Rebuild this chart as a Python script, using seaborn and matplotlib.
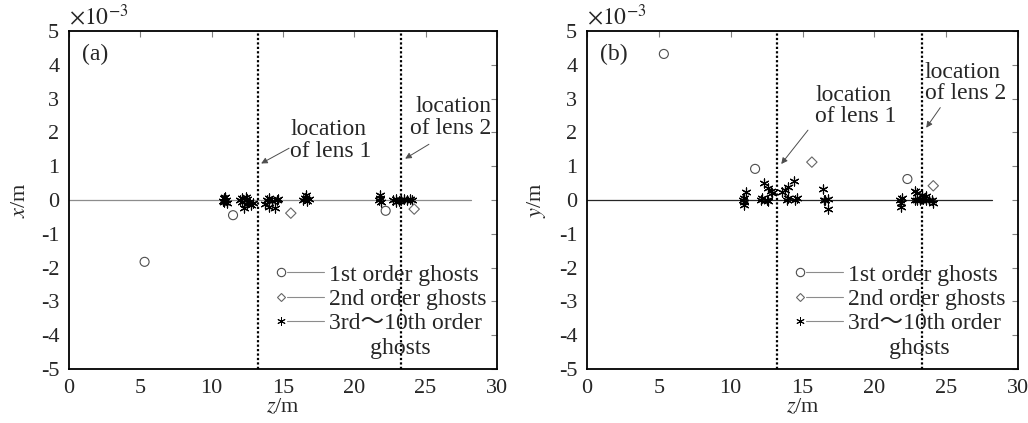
import matplotlib
matplotlib.use('Agg')
import matplotlib.pyplot as plt
import seaborn as sns
from matplotlib.lines import Line2D
from matplotlib.legend_handler import HandlerTuple

# all transverse values in units of 1e-3 m
# panel (a): x/m
z_first_a = [5.3, 11.5, 22.2]
x_first_a = [-1.83, -0.45, -0.32]
z_second_a = [15.55, 24.2]
x_second_a = [-0.39, -0.27]
z_high_a = [10.8, 10.85, 10.9, 10.95, 11.0, 11.05, 12.0, 12.1, 12.15, 12.4, 12.45, 12.5, 12.6,
            12.3, 12.75, 12.9, 13.75, 14.0, 14.45, 13.9, 14.05, 14.2, 14.6, 14.65,
            16.4, 16.55, 16.6, 16.7, 16.8, 21.75, 21.8, 21.85, 21.8,
            22.7, 22.9, 22.95, 23.1, 23.3, 23.5, 23.7, 23.9, 24.05]
x_high_a = [-0.02, 0.05, -0.05, 0.1, 0.0, -0.08, 0.0, 0.05, -0.05, 0.08, -0.12, 0.02, -0.05,
            -0.24, -0.15, -0.1, -0.12, -0.2, -0.24, 0.0, 0.05, -0.03, 0.0, 0.04,
            0.0, 0.05, 0.15, -0.03, 0.02, 0.0, 0.05, -0.05, 0.15,
            0.0, 0.03, -0.05, -0.03, 0.0, 0.02, 0.0, 0.03, 0.0]

# panel (b): y/m
z_first_b = [5.35, 11.7, 22.3]
y_first_b = [4.32, 0.92, 0.62]
z_second_b = [15.65, 24.1]
y_second_b = [1.12, 0.42]
z_high_b = [10.85, 10.9, 10.95, 10.9, 11.1, 12.1, 12.2, 12.5, 12.6, 12.3, 12.6, 12.8, 12.9,
            13.6, 13.8, 14.0, 14.4, 13.9, 14.0, 14.5, 14.6,
            16.4, 16.5, 16.6, 16.8, 16.75, 21.8, 21.9, 21.85, 21.85,
            22.8, 23.0, 23.3, 23.6, 22.8, 23.0, 23.2, 23.4, 23.6, 23.8, 24.0, 24.1]
y_high_b = [0.0, 0.05, -0.05, -0.15, 0.25, 0.0, 0.05, 0.0, -0.03, 0.5, 0.35, 0.27, 0.22,
            0.24, 0.3, 0.39, 0.55, 0.0, 0.05, 0.0, 0.05,
            0.32, 0.0, 0.0, 0.03, -0.27, 0.0, 0.05, -0.1, -0.2,
            0.27, 0.2, 0.15, 0.12, 0.0, 0.0, 0.0, 0.02, 0.0, 0.0, 0.0, -0.1]

lens_z = [13.25, 23.3]
axis_line_z = [0, 28.2]
axis_line_v = [0, 0]

legend_labels = ['1st order ghosts', '2nd order ghosts', '3rd\uff5e10th order', '       ghosts']

sns.set_style('white')
plt.rcParams['font.family'] = ['Liberation Serif', 'Noto Sans CJK SC', 'DejaVu Sans']
plt.rcParams['mathtext.fontset'] = 'stix'
plt.rcParams['axes.unicode_minus'] = False

fig = plt.figure(figsize=(10.28, 4.23), dpi=100)
ax_a = fig.add_axes([0.0671, 0.1277, 0.4163, 0.7991])
ax_b = fig.add_axes([0.571, 0.1277, 0.4193, 0.7991])

panels = [
    (ax_a, z_first_a, x_first_a, z_second_a, x_second_a, z_high_a, x_high_a, '$x$/m', '(a)', '0.55'),
    (ax_b, z_first_b, y_first_b, z_second_b, y_second_b, z_high_b, y_high_b, '$y$/m', '(b)', '0.15'),
]

for ax, zf, vf, zs, vs, zh, vh, ylab, tag, zero_col in panels:
    ax.plot(axis_line_z, axis_line_v, color=zero_col, lw=0.9, zorder=1)
    for lz in lens_z:
        ax.axvline(lz, color='k', ls=(0, (1, 1)), lw=1.6, zorder=2)
    sns.scatterplot(x=zh, y=vh, ax=ax, marker=(6, 2, 0), color='k', s=42, linewidth=0.85, zorder=3)
    sns.scatterplot(x=zf, y=vf, ax=ax, marker='o', color='none', edgecolor='0.3', s=42,
                    linewidth=0.8, zorder=4)
    sns.scatterplot(x=zs, y=vs, ax=ax, marker='D', color='none', edgecolor='0.4', s=28,
                    linewidth=0.8, zorder=4)
    ax.set_xlim(0, 30)
    ax.set_ylim(-5, 5)
    ax.set_xticks(range(0, 31, 5))
    ax.set_yticks(range(-5, 6))
    ax.tick_params(direction='in', length=4, color='0.5', top=True, right=True,
                   labelsize=16, pad=7)
    for sp in ax.spines.values():
        sp.set_linewidth(1.3)
        sp.set_color('k')
    ax.set_xlabel('$z$/m', fontsize=16, labelpad=0)
    ax.set_ylabel(ylab, fontsize=16, labelpad=8)
    ax.text(0.03, 0.93, tag, transform=ax.transAxes, fontsize=17, va='center')
    ax.text(0.0, 1.005, r'$\times10^{-3}$', transform=ax.transAxes, fontsize=17, va='bottom')

    m1 = Line2D([], [], ls='none', marker='o', mfc='none', mec='0.3', ms=6, mew=0.8)
    m2 = Line2D([], [], ls='none', marker='D', mfc='none', mec='0.4', ms=4.5, mew=0.8)
    m3 = Line2D([], [], ls='none', marker=(6, 2, 0), color='k', ms=6, mew=0.7)
    ln = Line2D([], [], color='0.55', lw=0.8)
    blank = Line2D([], [], ls='none')
    leg = ax.legend([(m1, ln, ln, ln), (m2, ln, ln, ln), (m3, ln, ln, ln), blank], legend_labels,
                    handler_map={tuple: HandlerTuple(ndivide=None, pad=0)},
                    loc='upper left', bbox_to_anchor=(0.48, 0.31), frameon=False,
                    handlelength=2.1, handletextpad=0.2, labelspacing=0.12,
                    borderaxespad=0, borderpad=0, fontsize=17)

# lens annotations
ax_a.text(15.5, 1.75, 'location\nof lens 1', fontsize=17, ha='left', va='center', linespacing=1.05)
ax_a.annotate('', xy=(13.3, 1.04), xytext=(15.6, 1.57),
              arrowprops=dict(arrowstyle='-|>', color='0.3', lw=0.7, mutation_scale=9))
ax_a.text(29.6, 2.43, 'location\nof lens 2', fontsize=17, ha='right', va='center',
          multialignment='right', linespacing=1.05)
ax_a.annotate('', xy=(23.4, 1.18), xytext=(25.4, 1.69),
              arrowprops=dict(arrowstyle='-|>', color='0.3', lw=0.7, mutation_scale=9))

ax_b.text(15.9, 2.78, 'location\nof lens 1', fontsize=17, ha='left', va='center', linespacing=1.05)
ax_b.annotate('', xy=(13.4, 1.0), xytext=(15.5, 2.13),
              arrowprops=dict(arrowstyle='-|>', color='0.3', lw=0.7, mutation_scale=9))
ax_b.text(23.5, 3.46, 'location\nof lens 2', fontsize=17, ha='left', va='center', linespacing=1.05)
ax_b.annotate('', xy=(23.5, 2.07), xytext=(24.7, 2.8),
              arrowprops=dict(arrowstyle='-|>', color='0.3', lw=0.7, mutation_scale=9))

plt.savefig('out.png', dpi=100)
